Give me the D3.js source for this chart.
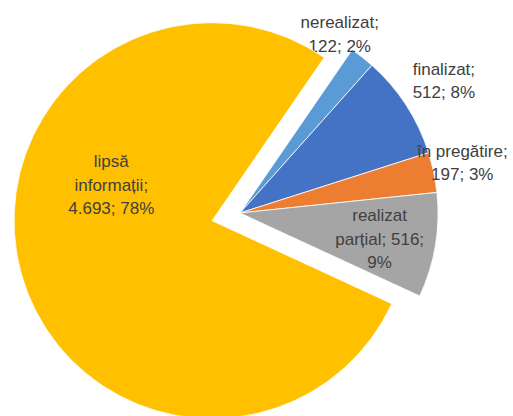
<!DOCTYPE html>
<html>
<head>
<meta charset="utf-8">
<script src="https://cdn.jsdelivr.net/npm/d3@7"></script>
<style>
  html, body { margin: 0; padding: 0; background: #fff; }
  text { font-family: "Liberation Sans", Arial, sans-serif; font-size: 17px; fill: #404040; }
</style>
</head>
<body>
<script>
// data, in drawing order (clockwise)
const categories = ['nerealizat', 'finalizat', 'în pregătire', 'realizat parțial', 'lipsă informații'];
const values = [122, 512, 197, 516, 4693];
const percents = ['2%', '8%', '3%', '9%', '78%'];
const valueLabels = ['122', '512', '197', '516', '4.693'];

const colors = ['#5B9BD5', '#4472C4', '#ED7D31', '#A5A5A5', '#FFC000'];

// label text lines, and where each label sits (radius / angle nudge in degrees)
const labelLines = [
    ['nerealizat;', '122; 2%'],
    ['finalizat;', '512; 8%'],
    ['în pregătire;', '197; 3%'],
    ['realizat', 'parțial; 516;', '9%'],
    ['lipsă', 'informații;', '4.693; 78%']
];
const labelRadius = [205, 243, 228, 142, 107];
const labelTurn = [-9, 0, -1, 1, 35];
const explode = [0, 0, 0, 0, 29];

const width = 513,
    height = 416,
    radius = 198,
    cx = 240,
    cy = 213,
    lineH = 23.5;

const svg = d3.select('body').append('svg')
    .attr('width', width)
    .attr('height', height);

const rad = d => d * Math.PI / 180;

const pie = d3.pie()
    .sort(null)
    .value(d => d)
    .startAngle(rad(34.5))
    .endAngle(rad(34.5 + 360));

const arcs = pie(values);

const arc = d3.arc()
    .innerRadius(0)
    .outerRadius(radius);

const g = svg.append('g')
    .attr('transform', 'translate(' + cx + ',' + cy + ')');

const slice = g.selectAll('g.slice')
    .data(arcs)
    .enter().append('g')
    .attr('class', 'slice')
    .attr('transform', function(d, i) {
        const mid = (d.startAngle + d.endAngle) / 2;
        const p = d3.pointRadial(mid, explode[i]);
        return 'translate(' + p[0] + ',' + p[1] + ')';
    });

slice.append('path')
    .attr('d', arc)
    .attr('fill', (d, i) => colors[i])
    .attr('stroke', '#fff')
    .attr('stroke-width', 0.8);

// data labels
slice.append('text')
    .attr('text-anchor', 'middle')
    .each(function(d, i) {
        const mid = (d.startAngle + d.endAngle) / 2 + rad(labelTurn[i]);
        const p = d3.pointRadial(mid, labelRadius[i]);
        const lines = labelLines[i];
        const top = p[1] - (lines.length - 1) * lineH / 2;
        d3.select(this).selectAll('tspan')
            .data(lines)
            .enter().append('tspan')
            .attr('x', p[0])
            .attr('y', (t, j) => top + j * lineH)
            .attr('dy', '0.35em')
            .text(t => t);
    });
</script>
</body>
</html>
